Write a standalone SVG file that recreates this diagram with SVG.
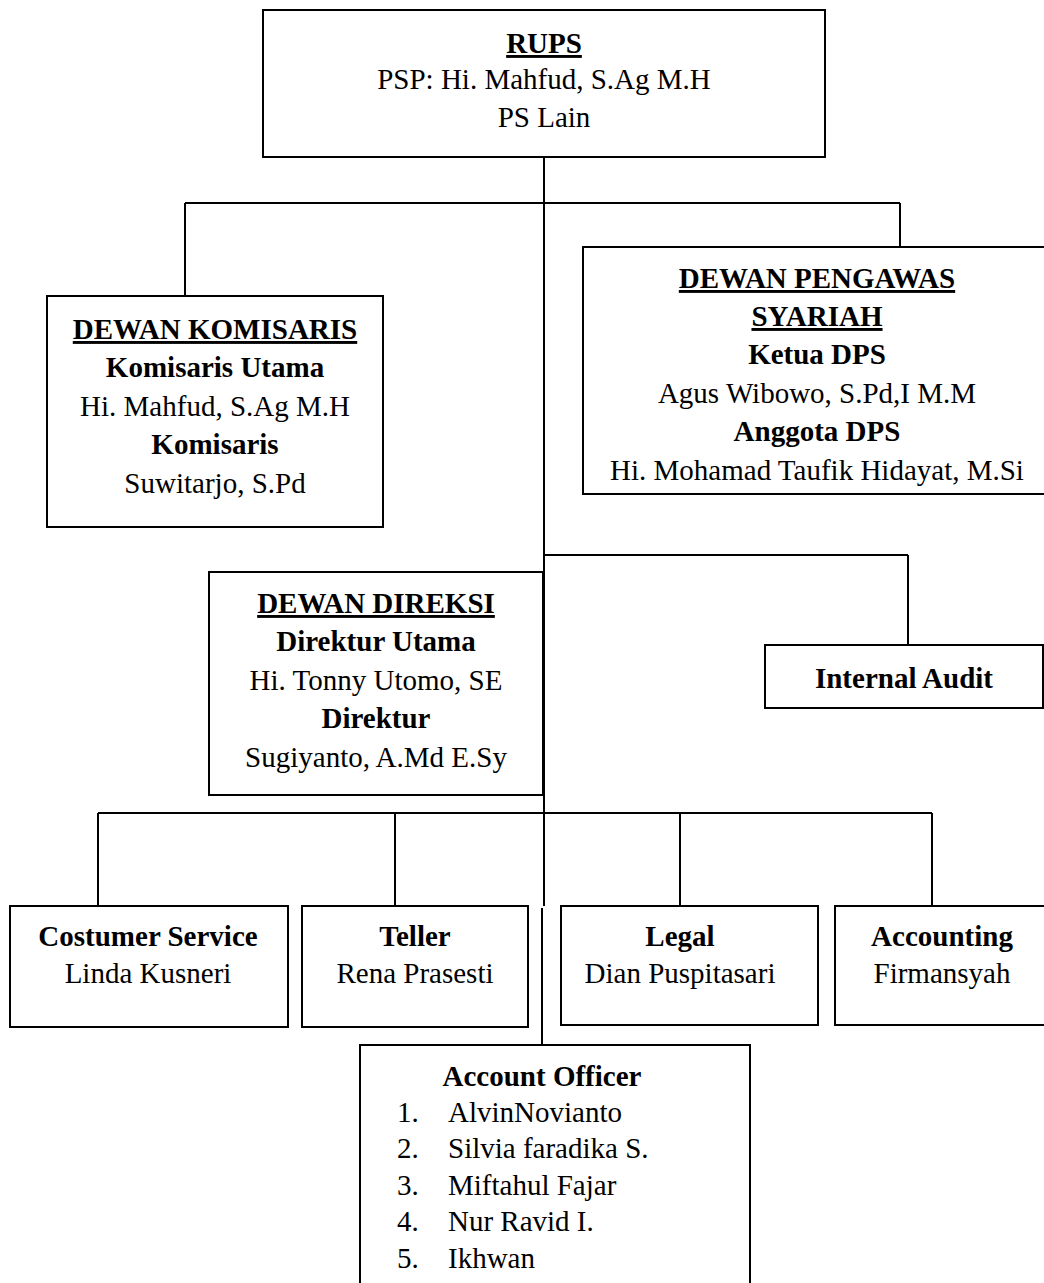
<svg xmlns="http://www.w3.org/2000/svg" width="1044" height="1283" viewBox="0 0 1044 1283">
<style>
.box{fill:#fff;stroke:#000;stroke-width:2}
.ln{stroke:#000;stroke-width:2;fill:none}
text{font-family:"Liberation Serif","Times New Roman",serif;font-size:29px;fill:#000}
.c{text-anchor:middle}
.b{font-weight:bold}
.u{text-decoration:underline}
</style>
<rect width="1044" height="1283" fill="#fff"/>
<g id="connectors">
<line class="ln" x1="544" y1="157" x2="544" y2="906"/>
<line class="ln" x1="542" y1="908" x2="542" y2="1045"/>
<line class="ln" x1="185" y1="203" x2="900" y2="203"/>
<line class="ln" x1="185" y1="203" x2="185" y2="296"/>
<line class="ln" x1="900" y1="203" x2="900" y2="247"/>
<line class="ln" x1="544" y1="555" x2="908" y2="555"/>
<line class="ln" x1="908" y1="555" x2="908" y2="645"/>
<line class="ln" x1="98" y1="813" x2="932" y2="813"/>
<line class="ln" x1="98" y1="813" x2="98" y2="906"/>
<line class="ln" x1="395" y1="813" x2="395" y2="910"/>
<line class="ln" x1="680" y1="813" x2="680" y2="906"/>
<line class="ln" x1="932" y1="813" x2="932" y2="906"/>
</g>
<g id="rups">
<rect class="box" x="263" y="10" width="562" height="147"/>
<text class="c b u" x="544" y="53">RUPS</text>
<text class="c" x="544" y="89">PSP: Hi. Mahfud, S.Ag M.H</text>
<text class="c" x="544" y="127">PS Lain</text>
</g>
<g id="komisaris">
<rect class="box" x="47" y="296" width="336" height="231"/>
<text class="c b u" x="215" y="339">DEWAN KOMISARIS</text>
<text class="c b" x="215" y="377">Komisaris Utama</text>
<text class="c" x="215" y="416">Hi. Mahfud, S.Ag M.H</text>
<text class="c b" x="215" y="454">Komisaris</text>
<text class="c" x="215" y="493">Suwitarjo, S.Pd</text>
</g>
<g id="dps">
<rect class="box" x="583" y="247" width="470" height="247"/>
<text class="c b u" x="817" y="288">DEWAN PENGAWAS</text>
<text class="c b u" x="817" y="326">SYARIAH</text>
<text class="c b" x="817" y="364">Ketua DPS</text>
<text class="c" x="817" y="403">Agus Wibowo, S.Pd,I M.M</text>
<text class="c b" x="817" y="441">Anggota DPS</text>
<text class="c" x="817" y="480">Hi. Mohamad Taufik Hidayat, M.Si</text>
</g>
<g id="direksi">
<rect class="box" x="209" y="572" width="334" height="223"/>
<text class="c b u" x="376" y="613">DEWAN DIREKSI</text>
<text class="c b" x="376" y="651">Direktur Utama</text>
<text class="c" x="376" y="690">Hi. Tonny Utomo, SE</text>
<text class="c b" x="376" y="728">Direktur</text>
<text class="c" x="376" y="767">Sugiyanto, A.Md E.Sy</text>
</g>
<g id="internal-audit">
<rect class="box" x="765" y="645" width="278" height="63"/>
<text class="c b" x="904" y="688">Internal Audit</text>
</g>
<g id="cs">
<rect class="box" x="10" y="906" width="278" height="121"/>
<text class="c b" x="148" y="946">Costumer Service</text>
<text class="c" x="148" y="983">Linda Kusneri</text>
</g>
<g id="teller">
<rect class="box" x="302" y="906" width="226" height="121"/>
<text class="c b" x="415" y="946">Teller</text>
<text class="c" x="415" y="983">Rena Prasesti</text>
</g>
<g id="legal">
<rect class="box" x="561" y="906" width="257" height="119"/>
<text class="c b" x="680" y="946">Legal</text>
<text class="c" x="680" y="983">Dian Puspitasari</text>
</g>
<g id="accounting">
<rect class="box" x="835" y="906" width="215" height="119"/>
<text class="c b" x="942" y="946">Accounting</text>
<text class="c" x="942" y="983">Firmansyah</text>
</g>
<g id="account-officer">
<rect class="box" x="360" y="1045" width="390" height="250"/>
<text class="c b" x="542" y="1086">Account Officer</text>
<text x="397" y="1122">1.</text><text x="448" y="1122">AlvinNovianto</text>
<text x="397" y="1158">2.</text><text x="448" y="1158">Silvia faradika S.</text>
<text x="397" y="1195">3.</text><text x="448" y="1195">Miftahul Fajar</text>
<text x="397" y="1231">4.</text><text x="448" y="1231">Nur Ravid I.</text>
<text x="397" y="1268">5.</text><text x="448" y="1268">Ikhwan</text>
</g>
</svg>
